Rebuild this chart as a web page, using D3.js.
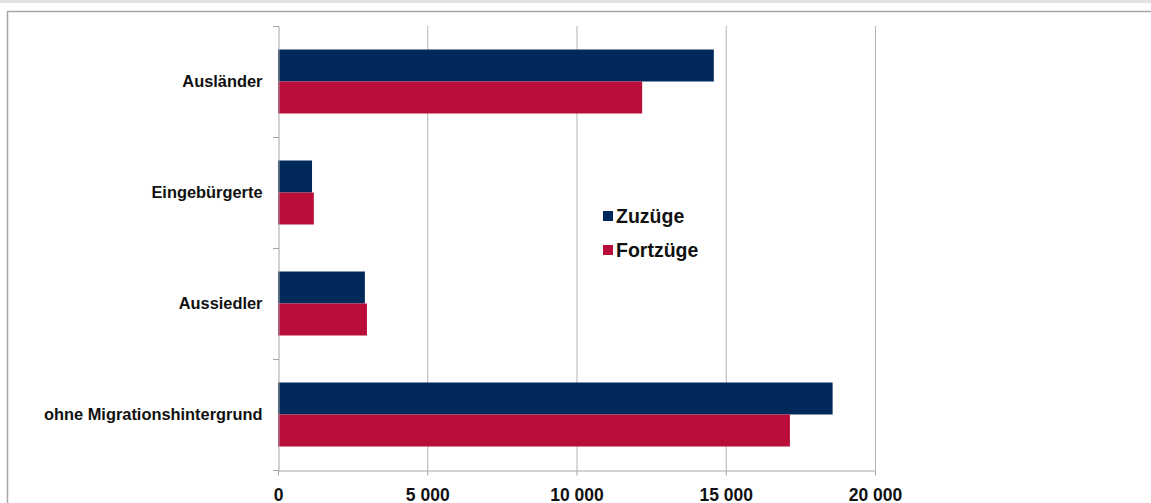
<!DOCTYPE html>
<html><head><meta charset="utf-8">
<script src="https://cdn.jsdelivr.net/npm/d3@7"></script>
<style>html,body{margin:0;padding:0;background:#fff;overflow:hidden}svg{display:block}</style>
</head><body>
<svg id="c" width="1151" height="503"></svg>
<script>
const categories = ["Ausländer", "Eingebürgerte", "Aussiedler", "ohne Migrationshintergrund"];
const zuzuege = [14600, 1140, 2910, 18580];
const fortzuege = [12200, 1200, 2980, 17150];
const seriesNames = ["Zuzüge", "Fortzüge"];
const tickValues = [0, 5000, 10000, 15000, 20000];
const colors = ["#00285A", "#B90E3A"];
const FONT = "Liberation Sans, Arial, sans-serif";

const svg = d3.select("#c");
svg.append("rect").attr("x",0).attr("y",0).attr("width",1151).attr("height",3).attr("fill","#e3e3e3");
svg.append("path").attr("d","M7.5,520V11.5H1160").attr("fill","none").attr("stroke","#a6a6a6").attr("stroke-width",1.5);

const x = d3.scaleLinear().domain([0,20000]).range([278,875]);
const y = d3.scaleBand().domain(categories).range([26,470]);
const barH = 32;
const off = (y.bandwidth() - 2*barH)/2;

svg.append("g").selectAll("line").data(tickValues.slice(1)).join("line")
  .attr("x1",d=>x(d)+0.5).attr("x2",d=>x(d)+0.5).attr("y1",26).attr("y2",470)
  .attr("stroke","#b3b3b3").attr("stroke-width",1);

const data = categories.map((c,i)=>({c, v:[zuzuege[i], fortzuege[i]]}));
const g = svg.append("g");
data.forEach(d=>{
  d.v.forEach((v,j)=>{
    g.append("rect").attr("x",x(0)).attr("y",y(d.c)+off+j*barH)
      .attr("width",x(v)-x(0)).attr("height",barH).attr("fill",colors[j]);
  });
});

const xa = svg.append("g").attr("transform","translate(0,470.5)")
  .call(d3.axisBottom(x).tickValues(tickValues).tickSize(5).tickSizeOuter(0)
    .tickFormat(d=>d3.format(",")(d).replace(/,/g," ")));
xa.select(".domain").attr("stroke","#a6a6a6");
xa.selectAll(".tick line").attr("stroke","#a6a6a6");
xa.selectAll("text").attr("font-family",FONT).attr("font-weight","bold")
  .attr("font-size",17.5).attr("fill","#111").attr("dy",null).attr("y",30);

const ya = svg.append("g").attr("transform","translate(278.5,0)")
  .call(d3.axisLeft(y).tickSize(0).tickPadding(16));
ya.select(".domain").attr("stroke","#a6a6a6");
ya.selectAll("text").attr("font-family",FONT).attr("font-weight","bold")
  .attr("font-size",16.4).attr("fill","#111");
svg.append("g").selectAll("line").data(d3.range(categories.length+1)).join("line")
  .attr("x1",273).attr("x2",279).attr("y1",i=>Math.round(26+i*y.step())+0.5).attr("y2",i=>Math.round(26+i*y.step())+0.5)
  .attr("stroke","#a6a6a6");

const lg = svg.append("g").attr("transform","translate(603,0)");
seriesNames.forEach((n,i)=>{
  lg.append("rect").attr("x",0).attr("y",211+i*34).attr("width",10).attr("height",10).attr("fill",colors[i]);
  lg.append("text").attr("x",13).attr("y",223+i*34).text(n)
    .attr("font-family",FONT).attr("font-weight","bold").attr("font-size",19.5).attr("fill","#111");
});
</script>
</body></html>
